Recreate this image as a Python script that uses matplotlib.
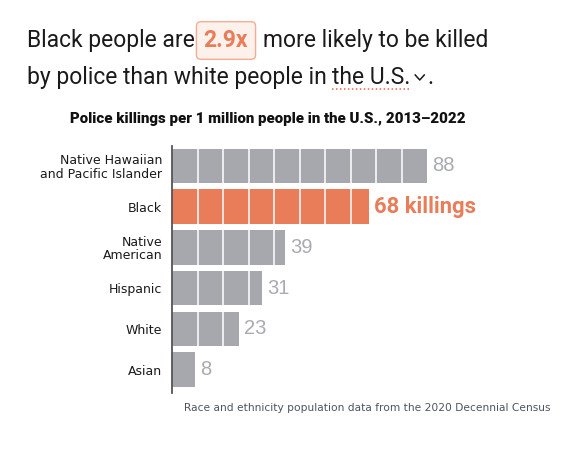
import matplotlib
matplotlib.use("Agg")
import matplotlib.pyplot as plt
from matplotlib.lines import Line2D

categories = ["Native Hawaiian\nand Pacific Islander", "Black", "Native\nAmerican",
              "Hispanic", "White", "Asian"]
values = [88, 68, 39, 31, 23, 8]
highlight = "Black"
value_labels = ["88", "68 killings", "39", "31", "23", "8"]
ratio_label = "2.9x"
chart_title = "Police killings per 1 million people in the U.S., 2013\u20132022"
footnote = "Race and ethnicity population data from the 2020 Decennial Census"

W, H = 564, 455
GRAY = "#a6a8ae"
ORANGE = "#e97d5a"
LABEL_GRAY = "#a9abb1"
TEXT = "#1a1a1a"

fig = plt.figure(figsize=(W / 100, H / 100), dpi=100)
renderer = fig.canvas.get_renderer()


def px(x, y):
    return (x / W, 1 - y / H)


def fit(t, target):
    for _ in range(3):
        w = t.get_window_extent(renderer).width
        t.set_fontsize(t.get_fontsize() * target / w)


TFONT = ["Roboto", "DejaVu Sans"]
TSIZE = 16.5

# Headline line 1
t1 = fig.text(*px(27, 47), "Black people are", fontsize=TSIZE, family=TFONT,
              color=TEXT, va="baseline")
tr = fig.text(*px(226, 47), ratio_label, fontsize=TSIZE, family=TFONT, color=ORANGE,
              weight="bold", va="baseline", ha="center",
              bbox=dict(boxstyle="round,pad=0.32,rounding_size=0.2", fc="#fdf1ec",
                        ec="#f2ad93", lw=1.0))
t2 = fig.text(*px(263, 47), "more likely to be killed", fontsize=TSIZE, family=TFONT,
              color=TEXT, va="baseline")

# Headline line 2
t3 = fig.text(*px(27, 84), "by police than white people in ", fontsize=TSIZE,
              family=TFONT, color=TEXT, va="baseline")
bb3 = t3.get_window_extent(renderer)
t4 = fig.text(bb3.x1 / W, 1 - 84 / H, "the U.S.", fontsize=TSIZE, family=TFONT,
              color=TEXT, va="baseline")
bb4 = t4.get_window_extent(renderer)
fig.add_artist(Line2D([bb4.x0 / W, bb4.x1 / W], [1 - 88.5 / H, 1 - 88.5 / H],
                      transform=fig.transFigure, color="#e0674a", lw=1.1,
                      linestyle=(0, (1, 1.6))))
cx = bb4.x1 + 9
fig.add_artist(Line2D([(cx - 4.5) / W, cx / W, (cx + 4.5) / W],
                      [1 - 75 / H, 1 - 80 / H, 1 - 75 / H],
                      transform=fig.transFigure, color=TEXT, lw=1.1))
fig.text((cx + 8) / W, 1 - 84 / H, ".", fontsize=TSIZE, family=TFONT, color=TEXT,
         va="baseline")

# Chart title
tt = fig.text(((70 + 465) / 2) / W, 1 - 123 / H, chart_title, fontsize=10.5,
              family=["Roboto", "DejaVu Sans"], weight="black", color="#111111",
              ha="center", va="baseline")
fit(tt, 395)

# Axes
ax = fig.add_axes([172 / W, 1 - 393 / H, 348 / W, 247 / H])
ax.set_xlim(0, 120)
ax.set_ylim(len(values) - 1 + 0.577, -0.491)
ypos = list(range(len(values)))
colors = [ORANGE if c == highlight else GRAY for c in categories]
ax.barh(ypos, values, height=0.848, color=colors, zorder=1)

step = max(values) / 10
for y, v in zip(ypos, values):
    k = 1
    while k * step < v - 0.3:
        ax.vlines(k * step, y - 0.424, y + 0.424, color="white", lw=1.3, alpha=0.85,
                  zorder=2)
        k += 1

for y, v, lab, c in zip(ypos, values, value_labels, categories):
    if c == highlight:
        t = ax.text(v + 1.8, y, lab, fontsize=13.5, family=["Roboto", "DejaVu Sans"],
                    weight="bold", color=ORANGE, va="center", ha="left")
        fit(t, 102)
    else:
        ax.text(v + 1.8, y, lab, fontsize=14.5,
                family=["Liberation Sans", "DejaVu Sans"],
                color=LABEL_GRAY, va="center", ha="left")

ax.set_yticks(ypos)
ax.set_yticklabels(categories, fontsize=9.0, family=["DejaVu Sans"],
                   color=TEXT, linespacing=1.05)
ax.tick_params(axis="y", length=0, pad=7)
ax.set_xticks([])
for s in ["top", "right", "bottom"]:
    ax.spines[s].set_visible(False)
ax.spines["left"].set_color("#555555")
ax.spines["left"].set_linewidth(1.3)
ax.set_facecolor("none")

tf = fig.text(*px(184, 411), footnote, fontsize=7.8,
              family=["DejaVu Sans"], color="#4d5360", va="baseline")
fit(tf, 366)

fig.savefig("out.png", dpi=100)
